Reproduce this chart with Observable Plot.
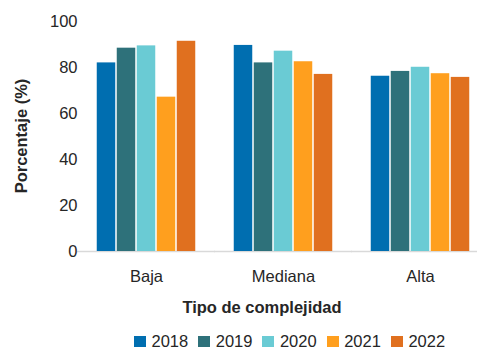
<!DOCTYPE html>
<html>
<head>
<meta charset="utf-8">
<script src="https://cdn.jsdelivr.net/npm/d3@7"></script>
<script src="https://cdn.jsdelivr.net/npm/@observablehq/plot@0.6"></script>
<style>
  body { margin: 0; background: white; }
  #wrap { position: relative; width: 477px; height: 350px; overflow: hidden; background: white;
          font-family: "Liberation Sans", Arial, sans-serif; color: #262626; }
  #wrap svg { position: absolute; left: 0; top: 0; }
  .ytitle { position: absolute; left: 20.5px; top: 135.5px; transform: translate(-50%, -50%) rotate(-90deg);
            white-space: nowrap; font-weight: bold; font-size: 16.5px; line-height: 1; }
  .xtitle { position: absolute; left: 262px; top: 307px; transform: translate(-50%, -50%);
            white-space: nowrap; font-weight: bold; font-size: 16.5px; line-height: 1; }
  .legend { position: absolute; left: 134px; top: 332.5px; display: flex; gap: 10px; font-size: 16.5px; line-height: 1; }
  .legend .item { display: flex; align-items: flex-start; }
  .legend .sw { width: 12px; height: 11px; margin-top: 3.5px; margin-right: 5.5px; }
</style>
</head>
<body>
<div id="wrap"></div>
<script>
const categories = ["Baja", "Mediana", "Alta"];
const years = ["2018", "2019", "2020", "2021", "2022"];
const baja = [82.0, 88.4, 89.4, 67.1, 91.4];
const mediana = [89.6, 82.0, 87.1, 82.5, 77.0];
const alta = [76.2, 78.3, 80.1, 77.3, 75.7];
const yTicks = [0, 20, 40, 60, 80, 100];
const colors = ["#006EB0", "#2E717A", "#6ACBD4", "#FF9F1E", "#E0701F"];
const yTitle = "Porcentaje (%)";
const xTitle = "Tipo de complejidad";

const series = [baja, mediana, alta];
const data = categories.flatMap((c, ci) => years.map((y, yi) => ({category: c, year: y, value: series[ci][yi]})));

const wrap = document.getElementById("wrap");
const chart = Plot.plot({
  width: 477,
  height: 330,
  marginLeft: 77,
  marginRight: 0,
  marginTop: 21,
  marginBottom: 79,
  style: {fontFamily: "'Liberation Sans', Arial, sans-serif", fontSize: "16.5px", color: "#262626", background: "transparent", overflow: "visible"},
  fx: {domain: categories, range: [77.5, 488.5], paddingInner: 0.27, paddingOuter: 0.135},
  x: {domain: years, padding: 0, axis: null},
  y: {domain: [0, 100]},
  color: {domain: years, range: colors},
  marks: [
    Plot.ruleY([0], {stroke: "#d9d9d9", strokeWidth: 1.5, insetLeft: -19, insetRight: -19}),
    Plot.barY(data, {fx: "category", x: "year", y: "value", fill: "year", insetLeft: 0.75, insetRight: 0.75}),
    Plot.axisY({ticks: yTicks, tickSize: 0, tickPadding: 19, label: null, fontSize: 16.5}),
    Plot.axisFx({anchor: "bottom", tickSize: 0, tickPadding: 19, label: null, fontSize: 16.5})
  ]
});
wrap.appendChild(chart);

const yt = document.createElement("div");
yt.className = "ytitle"; yt.textContent = yTitle; wrap.appendChild(yt);
const xt = document.createElement("div");
xt.className = "xtitle"; xt.textContent = xTitle; wrap.appendChild(xt);

const legend = document.createElement("div");
legend.className = "legend";
years.forEach((y, i) => {
  const item = document.createElement("div");
  item.className = "item";
  const sw = document.createElement("span");
  sw.className = "sw";
  sw.style.background = colors[i];
  const t = document.createElement("span");
  t.textContent = y;
  item.appendChild(sw); item.appendChild(t);
  legend.appendChild(item);
});
wrap.appendChild(legend);
</script>
</body>
</html>
